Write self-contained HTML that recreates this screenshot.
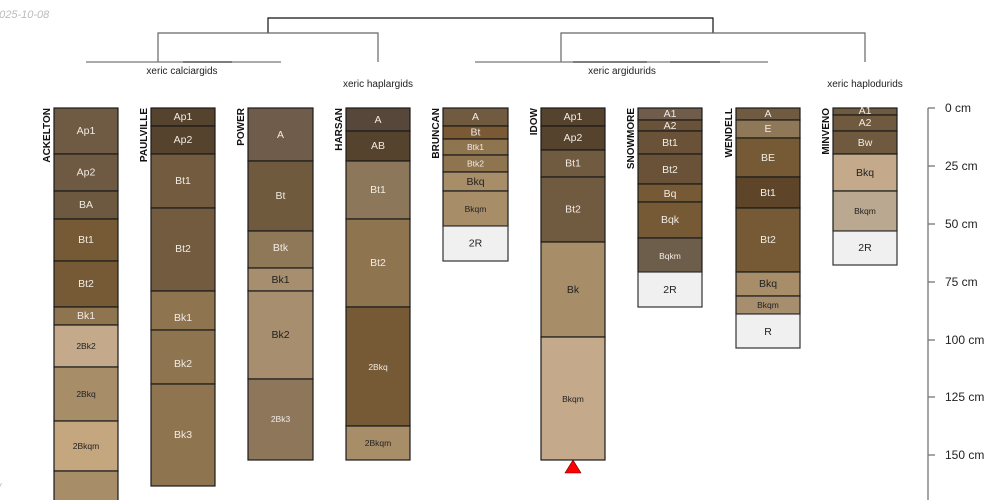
<!DOCTYPE html>
<html><head><meta charset="utf-8"><style>
html,body{margin:0;padding:0;background:#fff;width:1000px;height:500px;overflow:hidden}
svg{display:block;font-family:"Liberation Sans","DejaVu Sans",sans-serif}
.h rect{stroke:#1a1a1a;stroke-width:1.2}
.w{fill:#f0f0f0}
.t{font-size:10.5px;text-anchor:middle;dominant-baseline:central}
.s{font-size:8.5px;text-anchor:middle;dominant-baseline:central}
.l{fill:#f0ebe4}.d{fill:#222}
.n{font-size:10px;font-weight:bold;text-anchor:end}
</style></head><body>
<svg width="1000" height="500" viewBox="0 0 1000 500">
<text x="-7" y="18" font-size="11" font-style="italic" fill="#bbb">2025-10-08</text>
<text x="-2" y="491" font-size="11" font-style="italic" fill="#bbb">/</text>
<!-- dendrogram -->
<g fill="none" stroke-width="1.2">
<path d="M268 33V18H713V33" stroke="#111"/>
<path d="M158 62V33H378V62" stroke="#666"/>
<path d="M561 62V33H865V62" stroke="#666"/>
<path d="M86 62H281" stroke="#777"/>
<path d="M183 62H232" stroke="#444"/>
<path d="M475 62H768" stroke="#777"/>
<path d="M573 62H647M670 62H720" stroke="#444"/>
</g>
<g font-size="10" fill="#222" text-anchor="middle">
<text x="182" y="74">xeric calciargids</text>
<text x="378" y="87">xeric haplargids</text>
<text x="622" y="74">xeric argidurids</text>
<text x="865" y="87">xeric haplodurids</text>
</g>
<!-- names -->
<g class="n" fill="#111">
<text transform="translate(50,108) rotate(-90)">ACKELTON</text>
<text transform="translate(147,108) rotate(-90)">PAULVILLE</text>
<text transform="translate(244,108) rotate(-90)">POWER</text>
<text transform="translate(342,108) rotate(-90)">HARSAN</text>
<text transform="translate(439,108) rotate(-90)">BRUNCAN</text>
<text transform="translate(537,108) rotate(-90)">IDOW</text>
<text transform="translate(634,108) rotate(-90)">SNOWMORE</text>
<text transform="translate(732,108) rotate(-90)">WENDELL</text>
<text transform="translate(829,108) rotate(-90)">MINVENO</text>
</g>
<g class="h">
<!-- ACKELTON -->
<rect x="54" y="108" width="64" height="46" fill="#6f5a44"/><text class="t l" x="86" y="131">Ap1</text>
<rect x="54" y="154" width="64" height="37" fill="#6e5a43"/><text class="t l" x="86" y="172.5">Ap2</text>
<rect x="54" y="191" width="64" height="28" fill="#6d5840"/><text class="t l" x="86" y="205">BA</text>
<rect x="54" y="219" width="64" height="42" fill="#765a35"/><text class="t l" x="86" y="240">Bt1</text>
<rect x="54" y="261" width="64" height="46" fill="#765a35"/><text class="t l" x="86" y="284">Bt2</text>
<rect x="54" y="307" width="64" height="18" fill="#8f7450"/><text class="t l" x="86" y="316">Bk1</text>
<rect x="54" y="325" width="64" height="42" fill="#c4aa8a"/><text class="s d" x="86" y="346">2Bk2</text>
<rect x="54" y="367" width="64" height="54" fill="#a88d69"/><text class="s d" x="86" y="394">2Bkq</text>
<rect x="54" y="421" width="64" height="50" fill="#c4a77e"/><text class="s d" x="86" y="446">2Bkqm</text>
<rect x="54" y="471" width="64" height="40" fill="#a88d69"/>
<!-- PAULVILLE -->
<rect x="151" y="108" width="64" height="18" fill="#56432d"/><text class="t l" x="183" y="117">Ap1</text>
<rect x="151" y="126" width="64" height="28" fill="#56432d"/><text class="t l" x="183" y="140">Ap2</text>
<rect x="151" y="154" width="64" height="54" fill="#735b40"/><text class="t l" x="183" y="181">Bt1</text>
<rect x="151" y="208" width="64" height="83" fill="#735b40"/><text class="t l" x="183" y="249">Bt2</text>
<rect x="151" y="291" width="64" height="39" fill="#8f7450"/><text class="t l" x="183" y="318">Bk1</text>
<rect x="151" y="330" width="64" height="54" fill="#8f7450"/><text class="t l" x="183" y="364">Bk2</text>
<rect x="151" y="384" width="64" height="102" fill="#8f7450"/><text class="t l" x="183" y="435">Bk3</text>
<!-- POWER -->
<rect x="248" y="108" width="65" height="53" fill="#6f5c4a"/><text class="t l" x="280.5" y="135">A</text>
<rect x="248" y="161" width="65" height="70" fill="#705a3e"/><text class="t l" x="280.5" y="196">Bt</text>
<rect x="248" y="231" width="65" height="37" fill="#8f7858"/><text class="t l" x="280.5" y="248">Btk</text>
<rect x="248" y="268" width="65" height="23" fill="#a68e6e"/><text class="t d" x="280.5" y="280">Bk1</text>
<rect x="248" y="291" width="65" height="88" fill="#a68e6e"/><text class="t d" x="280.5" y="335">Bk2</text>
<rect x="248" y="379" width="65" height="81" fill="#8d7659"/><text class="s l" x="280.5" y="419">2Bk3</text>
<!-- HARSAN -->
<rect x="346" y="108" width="64" height="23" fill="#56473a"/><text class="t l" x="378" y="120">A</text>
<rect x="346" y="131" width="64" height="30" fill="#56432d"/><text class="t l" x="378" y="146">AB</text>
<rect x="346" y="161" width="64" height="58" fill="#8d775a"/><text class="t l" x="378" y="190">Bt1</text>
<rect x="346" y="219" width="64" height="88" fill="#8f7450"/><text class="t l" x="378" y="263">Bt2</text>
<rect x="346" y="307" width="64" height="119" fill="#765a35"/><text class="s l" x="378" y="367">2Bkq</text>
<rect x="346" y="426" width="64" height="34" fill="#a88d69"/><text class="s d" x="378" y="443">2Bkqm</text>
<!-- BRUNCAN -->
<rect x="443" y="108" width="65" height="18" fill="#705a40"/><text class="t l" x="475.5" y="117">A</text>
<rect x="443" y="126" width="65" height="13" fill="#7a5a35"/><text class="t l" x="475.5" y="132.5">Bt</text>
<rect x="443" y="139" width="65" height="16" fill="#8f7450"/><text class="s l" x="475.5" y="147">Btk1</text>
<rect x="443" y="155" width="65" height="17" fill="#8f7450"/><text class="s l" x="475.5" y="163.5">Btk2</text>
<rect x="443" y="172" width="65" height="19" fill="#a88d69"/><text class="t d" x="475.5" y="182">Bkq</text>
<rect x="443" y="191" width="65" height="35" fill="#a88d69"/><text class="s d" x="475.5" y="209">Bkqm</text>
<rect x="443" y="226" width="65" height="35" class="w" style="stroke:#333"/><text class="t d" x="475.5" y="243.5">2R</text>
<!-- IDOW -->
<rect x="541" y="108" width="64" height="18" fill="#56432d"/><text class="t l" x="573" y="117">Ap1</text>
<rect x="541" y="126" width="64" height="24" fill="#56432d"/><text class="t l" x="573" y="138">Ap2</text>
<rect x="541" y="150" width="64" height="27" fill="#705a40"/><text class="t l" x="573" y="163.5">Bt1</text>
<rect x="541" y="177" width="64" height="65" fill="#705a40"/><text class="t l" x="573" y="209.5">Bt2</text>
<rect x="541" y="242" width="64" height="95" fill="#a88d69"/><text class="t d" x="573" y="290">Bk</text>
<rect x="541" y="337" width="64" height="123" fill="#c4aa8a"/><text class="s d" x="573" y="399">Bkqm</text>
<!-- SNOWMORE -->
<rect x="638" y="108" width="64" height="12" fill="#6f5c4a"/><text class="t l" x="670" y="114">A1</text>
<rect x="638" y="120" width="64" height="11" fill="#6a5238"/><text class="t l" x="670" y="126">A2</text>
<rect x="638" y="131" width="64" height="23" fill="#6a5238"/><text class="t l" x="670" y="143">Bt1</text>
<rect x="638" y="154" width="64" height="30" fill="#6a5238"/><text class="t l" x="670" y="170">Bt2</text>
<rect x="638" y="184" width="64" height="18" fill="#765a35"/><text class="t l" x="670" y="194">Bq</text>
<rect x="638" y="202" width="64" height="36" fill="#765a35"/><text class="t l" x="670" y="220">Bqk</text>
<rect x="638" y="238" width="64" height="34" fill="#6d5e4c"/><text class="s l" x="670" y="256">Bqkm</text>
<rect x="638" y="272" width="64" height="35" class="w" style="stroke:#333"/><text class="t d" x="670" y="290">2R</text>
<!-- WENDELL -->
<rect x="736" y="108" width="64" height="12" fill="#705a40"/><text class="t l" x="768" y="114">A</text>
<rect x="736" y="120" width="64" height="18" fill="#8f7858"/><text class="t l" x="768" y="129">E</text>
<rect x="736" y="138" width="64" height="39" fill="#765a35"/><text class="t l" x="768" y="158">BE</text>
<rect x="736" y="177" width="64" height="31" fill="#5e4428"/><text class="t l" x="768" y="193">Bt1</text>
<rect x="736" y="208" width="64" height="64" fill="#765a35"/><text class="t l" x="768" y="240">Bt2</text>
<rect x="736" y="272" width="64" height="24" fill="#a88d69"/><text class="t d" x="768" y="284">Bkq</text>
<rect x="736" y="296" width="64" height="18" fill="#a68e6e"/><text class="s d" x="768" y="305">Bkqm</text>
<rect x="736" y="314" width="64" height="34" class="w" style="stroke:#333"/><text class="t d" x="768" y="332">R</text>
<!-- MINVENO -->
<rect x="833" y="108" width="64" height="7" fill="#6f5a40"/><text class="t l" x="865" y="111">A1</text>
<rect x="833" y="115" width="64" height="16" fill="#6f5a40"/><text class="t l" x="865" y="123">A2</text>
<rect x="833" y="131" width="64" height="23" fill="#6f5a40"/><text class="t l" x="865" y="143">Bw</text>
<rect x="833" y="154" width="64" height="37" fill="#c4aa8a"/><text class="t d" x="865" y="173">Bkq</text>
<rect x="833" y="191" width="64" height="40" fill="#bba890"/><text class="s d" x="865" y="211">Bkqm</text>
<rect x="833" y="231" width="64" height="34" class="w" style="stroke:#333"/><text class="t d" x="865" y="248">2R</text>
</g>
<polygon points="573,460 565,473 581,473" fill="#f00" stroke="#600" stroke-width="0.6"/>
<!-- axis -->
<g stroke="#777" stroke-width="1.3">
<line x1="928" y1="108" x2="928" y2="500"/>
<line x1="928" y1="108" x2="935" y2="108"/>
<line x1="928" y1="166" x2="935" y2="166"/>
<line x1="928" y1="224" x2="935" y2="224"/>
<line x1="928" y1="282" x2="935" y2="282"/>
<line x1="928" y1="340" x2="935" y2="340"/>
<line x1="928" y1="397" x2="935" y2="397"/>
<line x1="928" y1="455" x2="935" y2="455"/>
</g>
<g font-size="12" fill="#222" dominant-baseline="central">
<text x="945" y="108">0 cm</text>
<text x="945" y="166">25 cm</text>
<text x="945" y="224">50 cm</text>
<text x="945" y="282">75 cm</text>
<text x="945" y="340">100 cm</text>
<text x="945" y="397">125 cm</text>
<text x="945" y="455">150 cm</text>
</g>
</svg>
</body></html>
